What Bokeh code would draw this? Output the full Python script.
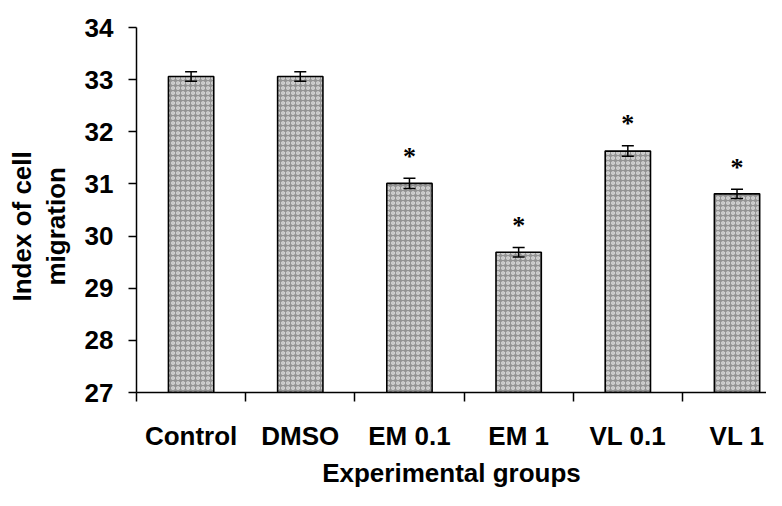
from bokeh.plotting import figure
from bokeh.models import ColumnDataSource, FixedTicker, Whisker, Range1d, Title
from bokeh.embed import file_html
from bokeh.resources import INLINE

groups = ["Control", "DMSO", "EM 0.1", "EM 1", "VL 0.1", "VL 1"]
values = [33.06, 33.06, 31.01, 29.69, 31.63, 30.81]
errors = [0.09, 0.09, 0.10, 0.09, 0.10, 0.09]
significant = [False, False, True, True, True, True]
y_ticks = [27, 28, 29, 30, 31, 32, 33, 34]
y_title_lines = ["Index of cell", "migration"]

FONT = "Liberation Sans"
X_END = 5.27
xs = list(range(len(groups)))
src = ColumnDataSource(dict(
    x=xs, top=values,
    upper=[v + e for v, e in zip(values, errors)],
    lower=[v - e for v, e in zip(values, errors)],
))
star_x = [x for x, s in zip(xs, significant) if s]
star_y = [v + e for v, e, s in zip(values, errors, significant) if s]

W, H = 766, 490
LEFT, TOP, BOTTOM = 136, 27, 97
p = figure(width=W, height=H, output_backend="svg", toolbar_location=None,
           x_range=Range1d(-0.5, X_END), y_range=Range1d(y_ticks[0], y_ticks[-1]),
           min_border_left=LEFT, min_border_right=0, min_border_top=TOP,
           min_border_bottom=BOTTOM)
p.outline_line_color = None
p.background_fill_color = "white"

p.vbar(x="x", top="top", bottom=y_ticks[0], width=0.415, source=src,
       fill_color="#939393", line_color="black", line_width=1.6,
       hatch_pattern="ring", hatch_color="#e6e6e6", hatch_scale=5,
       hatch_weight=1.2)

w = Whisker(base="x", upper="upper", lower="lower", source=src,
            line_color="black", line_width=1.5, level="overlay")
w.upper_head.size = 12
w.lower_head.size = 12
w.upper_head.line_width = 1.5
w.lower_head.line_width = 1.5
p.add_layout(w)

p.text(x=star_x, y=star_y, text=["*"] * len(star_x), text_align="center",
       text_baseline="alphabetic", text_font_size="26px", text_font_style="bold",
       y_offset=-22, text_font=FONT, text_color="black")

# grid: only a top border line
p.xgrid.visible = False
p.ygrid.ticker = FixedTicker(ticks=[y_ticks[-1]])
p.ygrid.grid_line_color = "#333333"
p.ygrid.grid_line_width = 2

# y axis
p.yaxis.ticker = FixedTicker(ticks=y_ticks)
p.yaxis.major_tick_out = 8
p.yaxis.major_tick_in = 0
p.yaxis.minor_tick_line_color = None
p.yaxis.axis_line_width = 1.5
p.yaxis.major_tick_line_width = 1.5
p.yaxis.major_label_text_font = FONT
p.yaxis.major_label_text_font_style = "bold"
p.yaxis.major_label_text_font_size = "26px"
p.yaxis.major_label_text_color = "black"
p.yaxis.major_label_standoff = 15
# small spacer between tick labels and the title
p.yaxis.axis_label = " "
p.yaxis.axis_label_text_font_size = "1px"
p.yaxis.axis_label_standoff = 6

# y title: two rotated lines, centred a little below the frame middle
title_center_from_bottom = 166
approx_widths = {"Index of cell": 150, "migration": 118}
for line in reversed(y_title_lines):
    t = Title(text=line, align="left",
              offset=title_center_from_bottom - approx_widths[line] / 2,
              text_font=FONT, text_font_style="bold", text_font_size="26px",
              text_color="black", standoff=2)
    p.add_layout(t, "left")

# x axis
boundaries = [x - 0.5 for x in xs] + [xs[-1] + 0.5]
p.xaxis.ticker = FixedTicker(ticks=xs, minor_ticks=boundaries)
p.xaxis.major_label_overrides = {x: g for x, g in zip(xs, groups)}
p.xaxis.major_tick_out = 0
p.xaxis.major_tick_in = 0
p.xaxis.minor_tick_out = 9
p.xaxis.minor_tick_in = 0
p.xaxis.minor_tick_line_width = 1.5
p.xaxis.minor_tick_line_color = "black"
p.xaxis.axis_line_width = 1.5
p.xaxis.major_label_text_font = FONT
p.xaxis.major_label_text_font_style = "bold"
p.xaxis.major_label_text_font_size = "26px"
p.xaxis.major_label_text_color = "black"
p.xaxis.major_label_standoff = 19
p.xaxis.axis_label = "Experimental groups"
p.xaxis.axis_label_text_font = FONT
p.xaxis.axis_label_text_font_style = "bold"
p.xaxis.axis_label_text_font_size = "26px"
p.xaxis.axis_label_text_color = "black"
p.xaxis.axis_label_standoff = 4

open("out.html", "w").write(file_html(p, INLINE))
